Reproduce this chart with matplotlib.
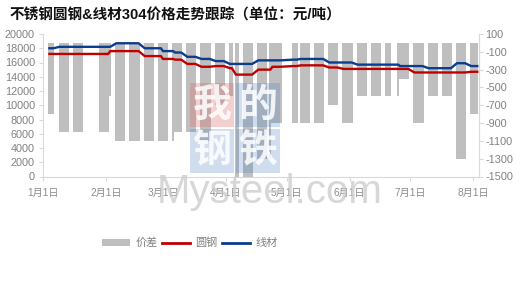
import matplotlib
matplotlib.use('Agg')
import matplotlib.pyplot as plt
import matplotlib.dates as mdates
import numpy as np
import pandas as pd
from matplotlib.lines import Line2D
from matplotlib.patches import Patch, Rectangle
from matplotlib.ticker import FuncFormatter, MultipleLocator

plt.rcParams['font.family'] = ['Liberation Sans', 'Noto Sans CJK SC', 'DejaVu Sans']
plt.rcParams['axes.unicode_minus'] = False

title = '不锈钢圆钢&线材304价格走势跟踪（单位：元/吨）'
series_names = ['价差', '圆钢', '线材']

# 2023 trading calendar (China)
start_date, end_date = '2023-01-04', '2023-08-03'
holidays = ['2023-01-23', '2023-01-24', '2023-01-25', '2023-01-26', '2023-01-27',
            '2023-04-05', '2023-05-01', '2023-05-02', '2023-05-03',
            '2023-06-22', '2023-06-23']
extra_workdays = ['2023-01-29', '2023-04-23', '2023-05-06', '2023-06-25']
dates = (pd.bdate_range(start_date, end_date)
         .difference(pd.to_datetime(holidays))
         .union(pd.to_datetime(extra_workdays)))

# 线材 (wire rod) price, yuan/t, per trading day
xiancai = ([18000] * 3 + [18200] * 16 + [18700] * 10 + [18000] * 7 + [17600] * 4 +
           [17400] * 4 + [16800] * 5 + [16500] * 5 + [16200] * 5 + [15800] * 9 +
           [16300] * 11 + [16400] * 3 + [16500] * 10 + [16000] * 10 + [15700] * 14 +
           [15500] * 10 + [15200] * 10 + [15900] * 5 + [15500] * 4)
# 圆钢 (round bar) price, yuan/t, per trading day
yuangang = ([17200] * 18 + [17600] * 11 + [16900] * 7 + [16500] * 4 + [16400] * 4 +
            [15800] * 5 + [15400] * 5 + [15500] * 5 + [15200] * 2 + [14300] * 7 +
            [15000] * 6 + [15400] * 5 + [15500] * 3 + [15600] * 10 + [15300] * 5 +
            [15100] * 24 + [14600] * 20 + [14700] * 4)
# 价差 = 圆钢 - 线材
jiacha = np.array(yuangang) - np.array(xiancai)

GREY = '#BFBFBF'
RED = '#C00000'
BLUE = '#0A3C8F'
SPINE = '#D9D9D9'
LABEL = '#808080'

W, H = 521, 294
fig = plt.figure(figsize=(W / 100, H / 100), dpi=100)
L, R, T, B = 43.3, 479.3, 34.0, 176.5
ax = fig.add_axes([L / W, 1 - B / H, (R - L) / W, (B - T) / H])
ax2 = ax.twinx()

ax2.bar(dates, jiacha, width=1.0, color=GREY, linewidth=0, align='center')
ax.set_zorder(ax2.get_zorder() + 1)
ax.patch.set_visible(False)
ax.plot(dates, yuangang, color=RED, lw=1.7, solid_joinstyle='round')
ax.plot(dates, xiancai, color=BLUE, lw=1.7, solid_joinstyle='round')

ax.set_ylim(0, 20000)
ax.yaxis.set_major_locator(MultipleLocator(2000))
ax2.set_ylim(-1500, 100)
ax2.set_yticks(np.arange(-1500, 101, 200))
ax.set_xlim(mdates.date2num(pd.Timestamp('2023-01-01')),
            mdates.date2num(pd.Timestamp('2023-08-04')))
ax.xaxis.set_major_locator(mdates.MonthLocator())
ax.xaxis.set_major_formatter(FuncFormatter(
    lambda v, p: f'{mdates.num2date(v).month}月1日'))

for a in (ax, ax2):
    a.spines['top'].set_visible(False)
    for s in ('left', 'right', 'bottom'):
        a.spines[s].set_color(SPINE)
        a.spines[s].set_linewidth(0.8)
ax.spines['right'].set_visible(False)
ax2.spines['left'].set_visible(False)
ax2.spines['bottom'].set_visible(False)

ax.tick_params(axis='y', length=3, width=0.8, color=SPINE, labelsize=7.8,
               labelcolor=LABEL, pad=3)
ax2.tick_params(axis='y', length=3, width=0.8, color=SPINE, labelsize=7.8,
                labelcolor=LABEL, pad=1.5)
ax.tick_params(axis='x', length=3, width=0.8, color=SPINE, labelsize=7.3,
               labelcolor='#8C8C8C', pad=5)

fig.text(10 / W, 1 - 15 / H, title, fontsize=10.5, fontweight='bold',
         ha='left', va='center', color='#111111')

handles = [Patch(facecolor=GREY, edgecolor='none'),
           Line2D([], [], color=RED, lw=2),
           Line2D([], [], color=BLUE, lw=2)]
fig.legend(handles, series_names, loc='center', bbox_to_anchor=(190 / W, 1 - 243 / H),
           ncol=3, frameon=False, fontsize=8, handlelength=2.5, handleheight=0.6,
           handletextpad=0.5, columnspacing=0.4, labelcolor='#808080')

# watermark
boxes = [('我', 190, 83, (0.86, 0.39, 0.39, 0.30)),
         ('的', 236, 83, (0.27, 0.47, 0.75, 0.25)),
         ('钢', 190, 129, (0.27, 0.47, 0.75, 0.25)),
         ('铁', 236, 129, (0.27, 0.47, 0.75, 0.25))]
for ch, bx, by, col in boxes:
    fig.patches.append(Rectangle((bx / W, 1 - (by + 44) / H), 44 / W, 44 / H,
                                 transform=fig.transFigure, facecolor=col,
                                 edgecolor='none', zorder=20))
    fig.text((bx + 22) / W, 1 - (by + 22) / H, ch, fontsize=28, fontweight='bold',
             family=['Noto Sans CJK SC'], color='white', alpha=0.85,
             ha='center', va='center', zorder=21)
fig.text(157 / W, 1 - 203 / H, 'Mysteel.com', fontsize=29,
         family=['Liberation Sans Narrow', 'Liberation Sans'],
         color='#CACACA', alpha=0.75, ha='left', va='baseline', zorder=22)

fig.savefig('out.png', dpi=100)
